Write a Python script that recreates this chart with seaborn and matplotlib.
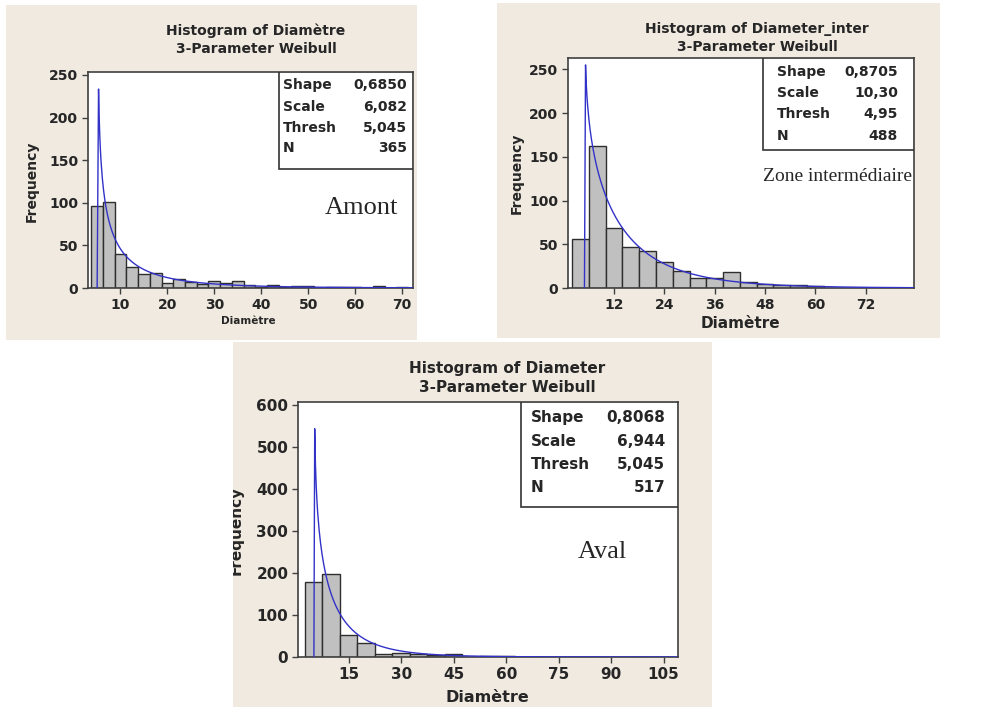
import numpy as np
import pandas as pd
import matplotlib
matplotlib.use('Agg')
import matplotlib.pyplot as plt
from matplotlib.patches import Rectangle
import seaborn as sns

# ---- data ----
panel_titles = ['Histogram of Diamètre', 'Histogram of Diameter_inter', 'Histogram of Diameter']
panel_notes = ['Amont', 'Zone intermédiaire', 'Aval']

amont_bin_start, amont_bin_width = 3.75, 2.5
amont_counts = [96, 101, 40, 25, 16, 18, 6, 11, 7, 5, 8, 6, 8, 3, 1, 3, 1, 2, 2, 0,
                1, 1, 1, 0, 2, 0, 1]

inter_bin_start, inter_bin_width = 2.0, 4.0
inter_counts = [56, 162, 69, 47, 42, 30, 20, 12, 12, 18, 7, 5, 3, 3, 2]

aval_bin_start, aval_bin_width = 2.5, 5.0
aval_counts = [178, 198, 53, 34, 8, 10, 6, 4, 6, 1, 3, 3, 1, 1, 0, 0, 0, 0, 0, 0, 1]

weibull_shape = [0.6850, 0.8705, 0.8068]
weibull_scale = [6.082, 10.30, 6.944]
weibull_thresh = [5.045, 4.95, 5.045]
sample_n = [365, 488, 517]
stat_values = [['0,6850', '6,082', '5,045', '365'],
               ['0,8705', '10,30', '4,95', '488'],
               ['0,8068', '6,944', '5,045', '517']]
stat_labels = ['Shape', 'Scale', 'Thresh', 'N']

x_ticks = [np.arange(10, 71, 10), np.arange(12, 73, 12), np.arange(15, 106, 15)]
y_ticks = [np.arange(0, 251, 50), np.arange(0, 251, 50), np.arange(0, 601, 100)]

# ---- layout (pixels, y from top) ----
W, H = 1000, 707
panel_px = [(6, 5, 417, 340), (497, 3, 940, 338), (233, 342, 712, 707)]
axes_px = [(88, 72, 413, 288), (568, 58, 914, 288), (298, 402, 678, 657)]
x_lims = [(3.1, 72.3), (1.03, 83.5), (0.5, 109.1)]
y_lims = [(0, 253.5), (0, 263), (0, 608)]
title_xy = [(256, 40), (757, 38), (507, 378)]
ylabel_xy = [(32, 181), (517, 173), (236, 530)]
xlabel_xy = [(248, 321), (740, 323), (487, 697)]
xlabel_size = [7.5, 11, 11.5]
font_size = [10, 10, 11]
stat_box = [(0.588, 0.551), (0.564, 0.600), (0.586, 0.587)]
stat_rows = [[0.940, 0.838, 0.741, 0.648], [0.939, 0.848, 0.757, 0.661],
             [0.938, 0.847, 0.756, 0.665]]
stat_label_x = [0.600, 0.604, 0.613]
stat_value_x = [0.982, 0.954, 0.966]
note_xy = [(0.84, 0.37), (0.78, 0.483), (0.80, 0.413)]
note_size = [19, 14, 19]
curve_first_step = [0.3, 0.26, 0.23]

BEIGE = '#f0eae0'
BAR = '#c0c0c0'
EDGE = '#2e2e2e'
CURVE = '#3232c8'

sns.set_style('ticks')
plt.rcParams['font.family'] = ['DejaVu Sans']


def fx(px):
    return px / W


def fy(py):
    return 1 - py / H


def weibull_curve(k, lam, theta, n, width, xmax, first):
    t = np.linspace(first, xmax - theta, 500)
    pdf = (k / lam) * (t / lam) ** (k - 1) * np.exp(-(t / lam) ** k)
    x = np.concatenate([[theta], theta + t])
    y = np.concatenate([[0], pdf * n * width])
    return x, y


def main():
    fig = plt.figure(figsize=(W / 100, H / 100), dpi=100)
    fig.patch.set_facecolor('white')

    hist_data = [(amont_bin_start, amont_bin_width, amont_counts),
                 (inter_bin_start, inter_bin_width, inter_counts),
                 (aval_bin_start, aval_bin_width, aval_counts)]

    for i in range(3):
        fs = font_size[i]
        l, t, r, b = panel_px[i]
        bg = Rectangle((fx(l), fy(b)), fx(r - l), (b - t) / H, transform=fig.transFigure,
                       facecolor=BEIGE, edgecolor='none', zorder=-10)
        fig.patches.append(bg)

        al, at, ar, ab = axes_px[i]
        ax = fig.add_axes([fx(al), fy(ab), fx(ar - al), (ab - at) / H])
        ax.set_facecolor('white')

        start, width, counts = hist_data[i]
        edges = [start + width * k for k in range(len(counts) + 1)]
        hist_df = pd.DataFrame({'diam': [e + width / 2 for e in edges[:-1]], 'count': counts})
        sns.histplot(data=hist_df, x='diam', weights='count', bins=edges, ax=ax,
                     color=BAR, edgecolor=EDGE, linewidth=1.0, alpha=1.0)

        cx, cy = weibull_curve(weibull_shape[i], weibull_scale[i], weibull_thresh[i],
                               sample_n[i], width, x_lims[i][1], curve_first_step[i])
        ax.plot(cx, cy, color=CURVE, lw=1.0, zorder=5)

        ax.set_xlim(*x_lims[i])
        ax.set_ylim(*y_lims[i])
        ax.set_xticks(x_ticks[i])
        ax.set_yticks(y_ticks[i])
        ax.set_xlabel('')
        ax.set_ylabel('')
        ax.tick_params(axis='both', direction='out', length=4, width=1, color='#404040',
                       labelsize=fs, pad=3)
        for lab in ax.get_xticklabels() + ax.get_yticklabels():
            lab.set_fontweight('bold')
        for side in ['left', 'bottom', 'top', 'right']:
            ax.spines[side].set_color('#404040')
            ax.spines[side].set_linewidth(1.2)

        bx, by = stat_box[i]
        ax.add_patch(Rectangle((bx, by), 1 - bx, 1 - by, transform=ax.transAxes,
                               facecolor='white', edgecolor='#333333', lw=1.2, zorder=6))
        for j, lab in enumerate(stat_labels):
            ax.text(stat_label_x[i], stat_rows[i][j], lab, transform=ax.transAxes,
                    ha='left', va='center', fontsize=fs, fontweight='bold', zorder=7)
            ax.text(stat_value_x[i], stat_rows[i][j], stat_values[i][j], transform=ax.transAxes,
                    ha='right', va='center', fontsize=fs, fontweight='bold', zorder=7)

        nx, ny = note_xy[i]
        ax.text(nx, ny, panel_notes[i], transform=ax.transAxes, ha='center', va='center',
                fontsize=note_size[i], family='Liberation Serif', zorder=7, clip_on=False)

        tx, ty = title_xy[i]
        fig.text(fx(tx), fy(ty), panel_titles[i] + '\n3-Parameter Weibull', ha='center',
                 va='center', fontsize=fs, fontweight='bold', linespacing=1.4)

        # panel 3's label runs off the left edge of its panel in the reference
        yx, yy = ylabel_xy[i]
        ylab = fig.text(fx(yx), fy(yy), 'Frequency', rotation=90, ha='center', va='center',
                        fontsize=fs, fontweight='bold')
        ylab.set_clip_on(True)
        ylab.set_clip_path(bg)

        xx, xy = xlabel_xy[i]
        fig.text(fx(xx), fy(xy), 'Diamètre', ha='center', va='center',
                 fontsize=xlabel_size[i], fontweight='bold')

    fig.savefig('out.png', dpi=100, facecolor='white')
    plt.close(fig)


if __name__ == '__main__':
    main()
